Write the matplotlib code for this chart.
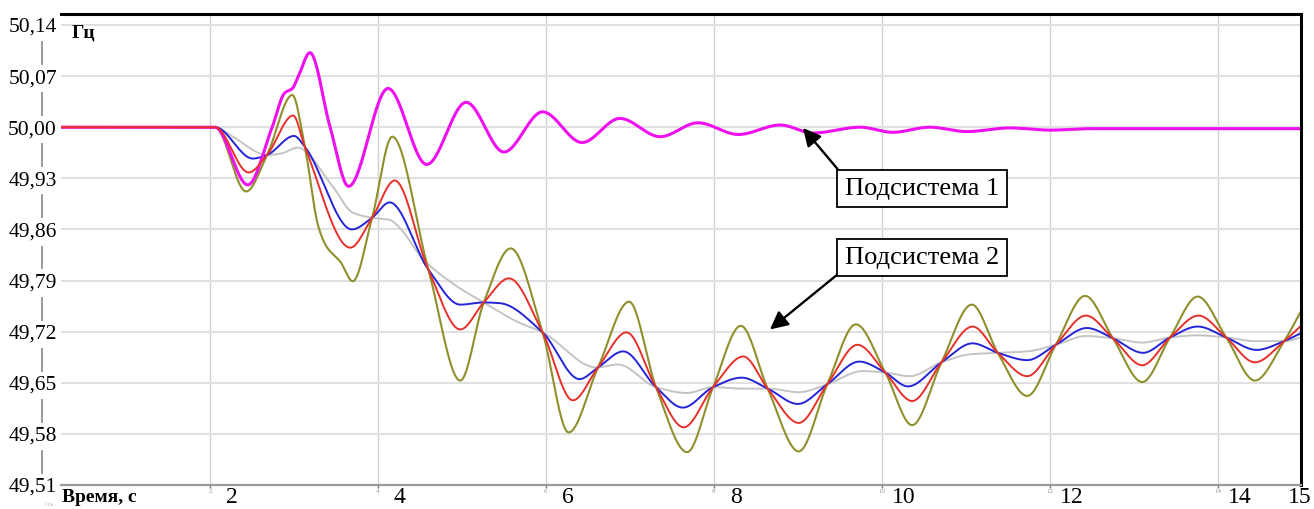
import numpy as np
import matplotlib
matplotlib.use("Agg")
import matplotlib.pyplot as plt
from matplotlib.lines import Line2D

plt.rcParams['font.family'] = ['Liberation Serif', 'DejaVu Serif']

# values (time, s / frequency, Hz)
t_pink = [0.23, 2.06, 2.45, 2.74, 2.89, 2.98, 3.05, 3.19, 3.43, 3.65, 4.12, 4.58,
          5.05, 5.50, 5.96, 6.43, 6.88, 7.36, 7.81, 8.29, 8.79, 9.18, 9.74, 10.13,
          10.57, 11.01, 11.52, 12.0, 12.5, 15.0]
f_pink = [50.0, 50.0, 49.921, 50.0, 50.047, 50.053, 50.069, 50.102, 50.0, 49.919, 50.053, 49.949,
          50.034, 49.966, 50.021, 49.979, 50.012, 49.987, 50.006, 49.990, 50.003, 49.992, 50.0, 49.993,
          50.0, 49.994, 49.999, 49.996, 49.998, 49.998]

t_olive = [0.23, 2.06, 2.43, 2.68, 2.98, 3.13, 3.29, 3.39, 3.55, 3.70, 3.93, 4.17, 4.60,
           4.98, 5.26, 5.58, 5.96, 6.27, 6.62, 6.99, 7.31, 7.68, 7.99, 8.32, 8.64, 9.01,
           9.35, 9.69, 10.04, 10.36, 10.71, 11.07, 11.38, 11.73, 12.07, 12.42, 12.75,
           13.10, 13.43, 13.76, 14.10, 14.44, 14.79, 14.99]
f_olive = [50.0, 50.0, 49.912, 49.962, 50.044, 49.973, 49.864, 49.836, 49.816, 49.789, 49.876, 49.987, 49.805,
           49.653, 49.760, 49.834, 49.719, 49.582, 49.671, 49.761, 49.644, 49.555, 49.644, 49.728, 49.642, 49.556,
           49.648, 49.730, 49.664, 49.592, 49.678, 49.757, 49.691, 49.632, 49.702, 49.769, 49.711,
           49.651, 49.712, 49.768, 49.712, 49.653, 49.707, 49.748]

t_red = [0.23, 2.06, 2.46, 2.68, 2.99, 3.13, 3.67, 3.93, 4.20, 4.60, 4.98, 5.26, 5.56,
         5.96, 6.32, 6.62, 6.96, 7.31, 7.64, 7.99, 8.35, 8.64, 9.01, 9.35, 9.71, 10.04,
         10.36, 10.71, 11.08, 11.38, 11.73, 12.07, 12.43, 12.75, 13.10, 13.43, 13.77,
         14.10, 14.44, 14.79, 14.99]
f_red = [50.0, 50.0, 49.938, 49.962, 50.016, 49.973, 49.835, 49.876, 49.927, 49.805, 49.723, 49.760, 49.793,
         49.719, 49.626, 49.671, 49.719, 49.644, 49.589, 49.644, 49.686, 49.642, 49.595, 49.648, 49.702, 49.664,
         49.625, 49.678, 49.727, 49.691, 49.659, 49.702, 49.742, 49.711, 49.674, 49.712, 49.742,
         49.712, 49.678, 49.707, 49.728]

t_blue = [0.23, 2.06, 2.51, 2.68, 3.0, 3.13, 3.69, 3.93, 4.14, 4.60, 4.98, 5.26, 5.45,
          5.96, 6.40, 6.62, 6.92, 7.31, 7.63, 7.99, 8.33, 8.64, 9.0, 9.35, 9.73, 10.04,
          10.31, 10.71, 11.08, 11.38, 11.73, 12.07, 12.44, 12.75, 13.11, 13.43, 13.76,
          14.10, 14.46, 14.79, 14.99]
f_blue = [50.0, 50.0, 49.957, 49.962, 49.988, 49.973, 49.860, 49.876, 49.897, 49.805, 49.757, 49.760, 49.759,
          49.719, 49.655, 49.671, 49.693, 49.644, 49.616, 49.644, 49.657, 49.642, 49.621, 49.648, 49.679, 49.664,
          49.645, 49.678, 49.704, 49.691, 49.681, 49.702, 49.725, 49.711, 49.691, 49.712, 49.727,
          49.712, 49.695, 49.707, 49.718]

t_gray = [0.23, 2.06, 2.27, 2.68, 2.85, 3.04, 3.46, 3.70, 3.93, 4.14, 4.26, 4.54, 4.94,
          5.26, 5.65, 5.96, 6.60, 6.86, 7.31, 7.68, 7.99, 8.33, 8.64, 9.01, 9.35, 9.77,
          10.04, 10.33, 10.71, 11.05, 11.38, 11.73, 12.07, 12.43, 12.75, 13.10, 13.43,
          13.76, 14.10, 14.44, 14.79, 14.99]
f_gray = [50.0, 50.0, 49.987, 49.962, 49.964, 49.972, 49.919, 49.883, 49.876, 49.873, 49.862, 49.819, 49.782,
          49.760, 49.734, 49.719, 49.671, 49.675, 49.644, 49.636, 49.644, 49.642, 49.642, 49.637, 49.648, 49.666,
          49.664, 49.659, 49.678, 49.689, 49.691, 49.693, 49.702, 49.714, 49.711, 49.705, 49.712,
          49.715, 49.712, 49.707, 49.707, 49.712]

y_ticks = [49.51, 49.58, 49.65, 49.72, 49.79, 49.86, 49.93, 50.00, 50.07, 50.14]
y_labels = ['49,51', '49,58', '49,65', '49,72', '49,79', '49,86', '49,93', '50,00', '50,07', '50,14']
x_ticks = [2, 4, 6, 8, 10, 12, 14]
x_big = [2, 4, 6, 8, 10, 12, 14, 15]


def smooth(x, y, n=3000):
    # monotone cubic through the read points, only for drawing
    x = np.asarray(x, float)
    y = np.asarray(y, float)
    h = np.diff(x)
    d = np.diff(y) / h
    m = np.zeros_like(y)
    for k in range(1, len(x) - 1):
        if d[k - 1] * d[k] > 0:
            w1 = 2 * h[k] + h[k - 1]
            w2 = h[k] + 2 * h[k - 1]
            m[k] = (w1 + w2) / (w1 / d[k - 1] + w2 / d[k])
    m[0] = d[0]
    m[-1] = d[-1]
    xs = np.linspace(x[0], x[-1], n)
    i = np.clip(np.searchsorted(x, xs) - 1, 0, len(h) - 1)
    s = (xs - x[i]) / h[i]
    ys = ((2 * s**3 - 3 * s**2 + 1) * y[i] + (s**3 - 2 * s**2 + s) * h[i] * m[i]
          + (-2 * s**3 + 3 * s**2) * y[i + 1] + (s**3 - s**2) * h[i] * m[i + 1])
    return xs, ys


fig = plt.figure(figsize=(13.14, 5.09), dpi=100)
ax = fig.add_axes([61 / 1314, 1 - 485 / 509, 1240 / 1314, 471 / 509])

ax.plot(*smooth(t_gray, f_gray), color='#c4c4c4', lw=1.4)
ax.plot(*smooth(t_blue, f_blue), color='#2424d8', lw=1.4)
ax.plot(*smooth(t_olive, f_olive), color='#8f8f2c', lw=1.5)
ax.plot(*smooth(t_pink, f_pink), color='#ee10ee', lw=2.2)
ax.plot(*smooth(t_red, f_red), color='#e8302a', lw=1.4)

ax.set_xlim(0.226, 14.99)
ax.set_ylim(49.51, 50.155)

ax.set_yticks(y_ticks)
ax.set_yticklabels(y_labels)
ax.set_xticks(x_ticks)
ax.set_xticklabels([str(v) for v in x_ticks])
ax.tick_params(axis='y', length=0, pad=3, labelsize=15.5)
ax.tick_params(axis='x', length=2, width=1, pad=1, labelsize=5, labelcolor='#999999', color='#777777')
for lab in ax.get_yticklabels():
    lab.set_bbox(dict(facecolor='white', edgecolor='none', pad=3))

ax.grid(axis='y', color='#e0e0e0', lw=1.4)
ax.grid(axis='x', color='#d0d0d0', lw=1.0)
ax.set_axisbelow(True)

ax.spines['left'].set_visible(False)
ax.spines['top'].set_color('black')
ax.spines['top'].set_linewidth(2.2)
ax.spines['right'].set_color('black')
ax.spines['right'].set_linewidth(2.2)
ax.spines['bottom'].set_color('#9a9a9a')
ax.spines['bottom'].set_linewidth(1.6)

# broken vertical axis line behind the y labels
fig.add_artist(Line2D([42 / 1314, 42 / 1314], [1 - 484 / 509, 1 - 26 / 509],
                      color='#8a8a8a', lw=1.2, zorder=0))

for v in x_big:
    xp = v + 0.26 if v != 15 else 14.97
    ax.text(xp, -0.004, str(v), transform=ax.get_xaxis_transform(),
            ha='center', va='top', fontsize=17, clip_on=False)

fig.text(62 / 1314, 1 - 497 / 509, 'Время, с', fontsize=14, fontweight='bold', va='center')
fig.text(45 / 1314, 1 - 504 / 509, 'Ось', fontsize=4, color='#aaaaaa', va='center')
fig.text(72 / 1314, 1 - 33 / 509, 'Гц', fontsize=14, fontweight='bold', va='center')

box = dict(boxstyle='square,pad=0.3', fc='white', ec='black', lw=1.3)
ax.annotate('Подсистема 1', xy=(9.06, 49.999), xytext=(10.476, 49.916),
            ha='center', va='center', fontsize=19, bbox=box,
            arrowprops=dict(arrowstyle='-|>', color='black', lw=1.7, mutation_scale=27,
                            shrinkA=0, shrinkB=0, relpos=(0, 1)))
ax.annotate('Подсистема 2', xy=(8.667, 49.723), xytext=(10.476, 49.8215),
            ha='center', va='center', fontsize=19, bbox=box,
            arrowprops=dict(arrowstyle='-|>', color='black', lw=1.7, mutation_scale=27,
                            shrinkA=0, shrinkB=0, relpos=(0, 0)))

fig.savefig('out.png', dpi=100)
